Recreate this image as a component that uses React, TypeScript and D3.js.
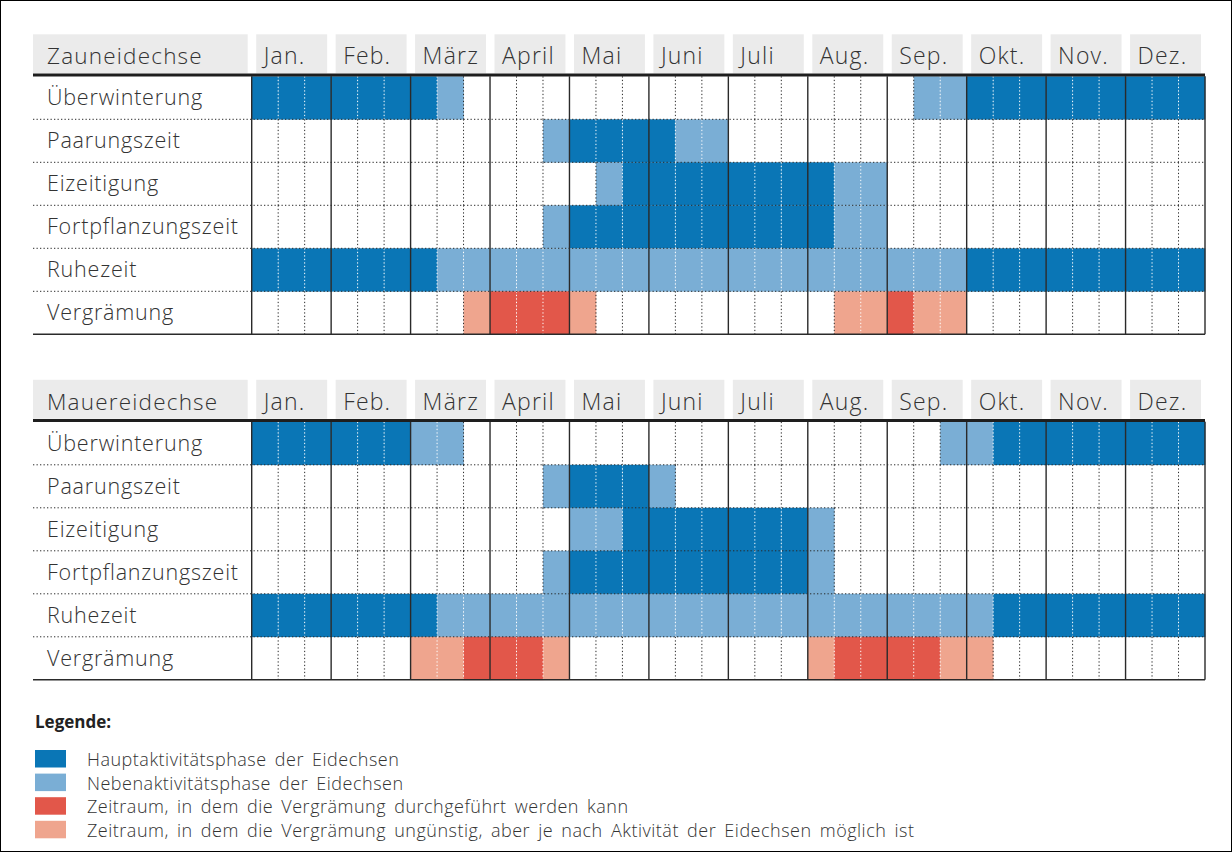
import React from "react";
import * as d3 from "d3";

const MONTHS = ["Jan.", "Feb.", "März", "April", "Mai", "Juni", "Juli", "Aug.", "Sep.", "Okt.", "Nov.", "Dez."];
const ROWS = ["Überwinterung", "Paarungszeit", "Eizeitigung", "Fortpflanzungszeit", "Ruhezeit", "Vergrämung"];

// codes: 0 none, 1 Haupt, 2 Neben, 3 Vergrämung möglich, 4 Vergrämung ungünstig
const zaunUeberwinterung = [1,1,1, 1,1,1, 1,2,0, 0,0,0, 0,0,0, 0,0,0, 0,0,0, 0,0,0, 0,2,2, 1,1,1, 1,1,1, 1,1,1];
const zaunPaarung =        [0,0,0, 0,0,0, 0,0,0, 0,0,2, 1,1,1, 1,2,2, 0,0,0, 0,0,0, 0,0,0, 0,0,0, 0,0,0, 0,0,0];
const zaunEizeitigung =    [0,0,0, 0,0,0, 0,0,0, 0,0,0, 0,2,1, 1,1,1, 1,1,1, 1,2,2, 0,0,0, 0,0,0, 0,0,0, 0,0,0];
const zaunFortpflanzung =  [0,0,0, 0,0,0, 0,0,0, 0,0,2, 1,1,1, 1,1,1, 1,1,1, 1,2,2, 0,0,0, 0,0,0, 0,0,0, 0,0,0];
const zaunRuhezeit =       [1,1,1, 1,1,1, 1,2,2, 2,2,2, 2,2,2, 2,2,2, 2,2,2, 2,2,2, 2,2,2, 1,1,1, 1,1,1, 1,1,1];
const zaunVergraemung =    [0,0,0, 0,0,0, 0,0,4, 3,3,3, 4,0,0, 0,0,0, 0,0,0, 0,4,4, 3,4,4, 0,0,0, 0,0,0, 0,0,0];

const mauerUeberwinterung = [1,1,1, 1,1,1, 2,2,0, 0,0,0, 0,0,0, 0,0,0, 0,0,0, 0,0,0, 0,0,2, 2,1,1, 1,1,1, 1,1,1];
const mauerPaarung =        [0,0,0, 0,0,0, 0,0,0, 0,0,2, 1,1,1, 2,0,0, 0,0,0, 0,0,0, 0,0,0, 0,0,0, 0,0,0, 0,0,0];
const mauerEizeitigung =    [0,0,0, 0,0,0, 0,0,0, 0,0,0, 2,2,1, 1,1,1, 1,1,1, 2,0,0, 0,0,0, 0,0,0, 0,0,0, 0,0,0];
const mauerFortpflanzung =  [0,0,0, 0,0,0, 0,0,0, 0,0,2, 1,1,1, 1,1,1, 1,1,1, 2,0,0, 0,0,0, 0,0,0, 0,0,0, 0,0,0];
const mauerRuhezeit =       [1,1,1, 1,1,1, 1,2,2, 2,2,2, 2,2,2, 2,2,2, 2,2,2, 2,2,2, 2,2,2, 2,1,1, 1,1,1, 1,1,1];
const mauerVergraemung =    [0,0,0, 0,0,0, 4,4,3, 3,3,4, 0,0,0, 0,0,0, 0,0,0, 4,3,3, 3,3,4, 4,0,0, 0,0,0, 0,0,0];

const TABLES = [
  { title: "Zauneidechse", rows: [zaunUeberwinterung, zaunPaarung, zaunEizeitigung, zaunFortpflanzung, zaunRuhezeit, zaunVergraemung] },
  { title: "Mauereidechse", rows: [mauerUeberwinterung, mauerPaarung, mauerEizeitigung, mauerFortpflanzung, mauerRuhezeit, mauerVergraemung] },
];

const LEGEND = [
  "Hauptaktivitätsphase der Eidechsen",
  "Nebenaktivitätsphase der Eidechsen",
  "Zeitraum, in dem die Vergrämung durchgeführt werden kann",
  "Zeitraum, in dem die Vergrämung ungünstig, aber je nach Aktivität der Eidechsen möglich ist",
];
const COLORS = ["#ffffff", "#0a76b6", "#7aaed5", "#e2574a", "#efa58e"];

const FONT = "'Open Sans', 'Liberation Sans', sans-serif";
const TEXT = "#333";
const LINE = "#2a2a2a";

const GRID_X0 = 251.7;
const GRID_X1 = 1205;
const LEFT = 33;
const ROW_H = 43;
const TABLE_TOPS = [76.3, 421.8];

const cells = d3.range(36);
const x = d3.scaleBand<number>().domain(cells).range([GRID_X0, GRID_X1]).paddingInner(0).paddingOuter(0);
const xm = d3.scaleBand<number>().domain(d3.range(12)).range([GRID_X0, GRID_X1]);

function Table({ title, rows, top }: { title: string; rows: number[][]; top: number }) {
  const y = d3.scaleBand<number>().domain(d3.range(ROWS.length)).range([top, top + ROWS.length * ROW_H]);
  const bottom = top + ROWS.length * ROW_H;
  const bw = x.bandwidth();
  const mw = xm.bandwidth();
  return (
    <g>
      {/* header */}
      <rect x={LEFT} y={top - 42} width={GRID_X0 - 4 - LEFT} height={39} fill="#ebebeb" />
      <text x={47} y={top - 12} fontSize={22.5} fontWeight={300} letterSpacing={1.2} fill={TEXT} fontFamily={FONT}>{title}</text>
      {MONTHS.map((m, i) => (
        <g key={m}>
          <rect x={(xm(i) as number) + 4.5} y={top - 42} width={mw - 8.5} height={39} fill="#ebebeb" />
          <text x={(xm(i) as number) + 12} y={top - 12} fontSize={23} fontWeight={300} letterSpacing={1.2} fill={TEXT} fontFamily={FONT}>{m}</text>
        </g>
      ))}
      {/* cells */}
      {rows.map((r, ri) =>
        r.map((v, ci) =>
          v ? (
            <rect key={`${ri}-${ci}`} x={x(ci)} y={y(ri)} width={bw + 0.3} height={ROW_H + 0.3} fill={COLORS[v]} />
          ) : null
        )
      )}
      {/* third-month dotted lines */}
      {rows.map((r, ri) =>
        cells.filter((c) => c % 3 !== 0).map((c) => {
          const both = r[c - 1] && r[c];
          return (
            <line key={`v${ri}-${c}`} x1={x(c)} x2={x(c)} y1={y(ri)} y2={(y(ri) as number) + ROW_H}
              stroke={both ? "#ffffff" : LINE} strokeWidth={1} strokeDasharray="1.3,2.2" />
          );
        })
      )}
      {/* horizontal dotted separators */}
      {d3.range(1, ROWS.length).map((i) => (
        <line key={`h${i}`} x1={LEFT} x2={GRID_X1} y1={y(i)} y2={y(i)} stroke={LINE} strokeWidth={1} strokeDasharray="1.3,2.2" />
      ))}
      {/* month solid lines */}
      {d3.range(13).map((i) => {
        const xx = i < 12 ? (xm(i) as number) : GRID_X1;
        return <line key={`m${i}`} x1={xx} x2={xx} y1={top} y2={bottom} stroke={LINE} strokeWidth={1.4} />;
      })}
      {/* row labels */}
      {ROWS.map((l, i) => (
        <text key={l} x={47} y={(y(i) as number) + ROW_H / 2 + 7.5} fontSize={21.5} fontWeight={300} letterSpacing={0.8} fill={TEXT} fontFamily={FONT}>{l}</text>
      ))}
      <line x1={LEFT} x2={GRID_X1} y1={top - 1.2} y2={top - 1.2} stroke="#1e1e1e" strokeWidth={3} />
      <line x1={LEFT} x2={GRID_X1} y1={bottom} y2={bottom} stroke={LINE} strokeWidth={1.4} />
    </g>
  );
}

export default function App() {
  return (
    <svg width={1232} height={852} style={{ position: "absolute", left: 0, top: 0, background: "#fff" }}>
      <rect x={0.5} y={0.5} width={1231} height={851} fill="#fff" stroke="#000" strokeWidth={1} />
      {TABLES.map((t, i) => (
        <Table key={t.title} title={t.title} rows={t.rows} top={TABLE_TOPS[i]} />
      ))}
      <text x={35} y={728} fontSize={17} fontWeight={700} fill="#222" fontFamily={FONT}>Legende:</text>
      {LEGEND.map((l, i) => (
        <g key={l}>
          <rect x={35} y={750 + i * 23.6} width={31} height={17.5} fill={COLORS[i + 1]} />
          <text x={87} y={766 + i * 23.6} fontSize={18} fontWeight={300} letterSpacing={0.5} wordSpacing={3} fill={TEXT} fontFamily={FONT}>{l}</text>
        </g>
      ))}
    </svg>
  );
}
